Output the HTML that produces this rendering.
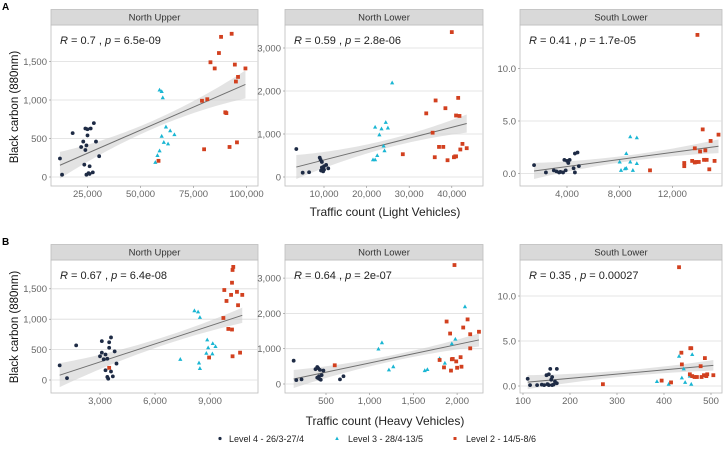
<!DOCTYPE html>
<html><head><meta charset="utf-8"><style>
body{margin:0;background:#fff;}
svg text{font-family:"Liberation Sans",sans-serif;}
</style></head><body>
<svg id="c" width="723" height="446" viewBox="0 0 723 446" xmlns="http://www.w3.org/2000/svg"></svg>
<script>
// Panel A1: North Upper vs light vehicles
const a1Navy=[[12000,240],[13000,30],[18000,570],[22000,390],[23000,460],[23500,160],[24000,350],[24000,630],[24500,410],[25000,620],[25000,540],[24500,30],[25500,50],[26000,140],[26500,630],[27500,60],[28000,700],[29000,460],[30500,270],[26000,40]];
const a1Cyan=[[57000,190],[58000,280],[59000,340],[59000,1130],[60000,1110],[60500,1030],[60000,530],[61000,450],[62000,650],[63000,430],[64000,600],[66000,550]];
const a1Red=[[58500,210],[79000,990],[80000,360],[81500,1010],[83000,1490],[85000,1410],[87000,1610],[88000,1820],[90000,840],[90500,830],[92000,390],[93000,1860],[94500,1460],[95000,1240],[96000,1300],[95500,450],[99500,1410]];
// Panel A2: North Lower vs light vehicles
const a2Navy=[[3500,650],[5000,100],[6500,110],[9000,450],[9200,400],[9500,350],[9300,150],[9800,130],[10000,170],[10000,250],[10500,280],[11000,200],[9500,220]];
const a2Cyan=[[21500,400],[22000,400],[22000,1160],[22500,500],[23000,980],[23500,1120],[24000,720],[24500,1270],[25000,1140],[24200,610],[26000,2190]];
const a2Red=[[28500,530],[34000,1480],[35500,1030],[36000,460],[36200,1780],[37000,700],[38000,700],[38500,1600],[39000,390],[40000,3370],[40500,460],[41000,480],[41000,1430],[41500,1840],[41800,1420],[42000,640],[42500,770],[43500,670],[40800,480]];
// Panel A3: South Lower vs light vehicles
const a3Navy=[[1500,0.8],[2400,0.1],[3000,0.3],[3200,0.2],[3500,0.15],[3700,0.1],[3800,1.3],[3900,0.3],[4000,1.2],[4100,1.0],[4200,1.3],[4500,0.5],[4600,1.9],[4800,2.0],[4600,0.1],[4900,0.7],[3400,0.1]];
const a3Cyan=[[8000,1.1],[8100,0.3],[8400,0.45],[8500,1.9],[8500,0.5],[8800,1.1],[8800,3.5],[9000,0.3],[9300,3.4],[9300,0.95]];
const a3Red=[[10300,0.3],[12900,1.0],[12900,0.7],[13500,1.2],[13700,1.05],[13700,2.4],[13800,1.1],[13900,13.2],[14000,1.1],[14100,2.1],[14300,4.2],[14400,1.3],[14500,2.2],[14600,1.3],[14800,0.4],[14900,3.1],[15200,1.2],[15500,3.7]];
// Panel B1
const b1Navy=[[800,240],[1200,30],[1700,570],[3000,390],[3100,450],[3100,640],[3200,340],[3300,160],[3300,420],[3400,50],[3450,20],[3500,620],[3500,530],[3600,140],[3600,700],[3700,60],[3800,470],[3900,270],[3400,350]];
const b1Cyan=[[7380,340],[8150,1140],[8350,1120],[8400,280],[8450,190],[8450,1030],[8800,440],[8850,660],[8900,530],[9150,600],[9130,430],[9300,550]];
const b1Red=[[3500,200],[8950,370],[9730,1020],[9780,1480],[9900,1300],[10150,1400],[10200,1600],[10230,1810],[10270,1860],[10200,830],[10000,840],[10230,390],[10470,1450],[10530,1230],[10640,450],[10760,1400]];
// Panel B2
const b2Navy=[[130,660],[160,110],[220,130],[380,420],[400,480],[410,450],[420,220],[420,150],[430,400],[440,120],[450,250],[470,380],[400,180],[660,130],[700,220]];
const b2Cyan=[[1100,990],[1140,1170],[1220,400],[1270,490],[1630,380],[1660,410],[1800,720],[1860,590],[1940,1140],[1980,1270],[2090,2190]];
const b2Red=[[600,530],[1800,680],[1850,470],[1880,1770],[1920,1430],[1930,380],[1940,700],[1950,710],[1970,3370],[1990,640],[2000,460],[2040,760],[2050,490],[2070,1600],[2120,1830],[2150,1410],[2150,1010],[2250,1480]];
// Panel B3
const b3Navy=[[110,0.8],[115,0.1],[130,0.1],[140,0.15],[145,0.1],[150,1.2],[152,0.2],[155,1.3],[155,0.1],[158,1.9],[160,0.7],[162,0.1],[165,0.15],[168,0.5],[172,1.9],[172,0.3],[162,1.0]];
const b3Cyan=[[385,0.5],[410,0.2],[432,3.3],[438,0.9],[442,1.9],[445,0.4],[455,1.1],[458,0.2],[460,3.5]];
const b3Red=[[270,0.2],[395,0.6],[415,0.4],[432,13.2],[437,3.7],[438,2.4],[455,1.3],[456,4.2],[458,4.2],[460,1.1],[465,1.0],[470,1.0],[478,2.2],[480,1.0],[485,1.2],[487,3.1],[490,1.1],[492,1.3],[505,1.2]];

const titles=["North Upper","North Lower","South Lower"];
const statsA=["R = 0.7 , p = 6.5e-09","R = 0.59 , p = 2.8e-06","R = 0.41 , p = 1.7e-05"];
const statsB=["R = 0.67 , p = 6.4e-08","R = 0.64 , p = 2e-07","R = 0.35 , p = 0.00027"];
const xTicksA=[[25000,50000,75000,100000],[10000,20000,30000,40000],[4000,8000,12000]];
const yTicksA=[[0,500,1000,1500],[0,1000,2000,3000],[0,5,10]];
const xTicksB=[[3000,6000,9000],[500,1000,1500,2000],[100,200,300,400,500]];
const yTicksB=[[0,500,1000,1500],[0,1000,2000,3000],[0,5,10]];

const svg=document.getElementById('c');
const NS="http://www.w3.org/2000/svg";
function mk(tag,attrs,parent){const e=document.createElementNS(NS,tag);for(const k in attrs)e.setAttribute(k,attrs[k]);(parent||svg).appendChild(e);return e;}
const NAVY="#1e2b45",CYAN="#1ab6d3",RED="#d2401f";
function fmt(v,dec){return dec?v.toFixed(1):v.toLocaleString('en-US');}

function panel(o){
  const g=mk('g',{});
  
  
  const X=v=>o.x0p+(v-o.x0)/o.xd*o.xs, Y=v=>o.y0p-(v-o.y0)/o.yd*o.ys;
  const bg=mk('rect',{x:o.L,y:o.T,width:o.R-o.L,height:o.B-o.T,fill:"#fff",stroke:"#bdbdbd","stroke-width":0.8},g);
  
  const strip=mk('rect',{x:o.L,y:o.T-15.5,width:o.R-o.L,height:15.5,fill:"#d9d9d9",stroke:"#bdbdbd","stroke-width":0.8},g);
  
  const st=mk('text',{x:(o.L+o.R)/2,y:o.T-4.5,"text-anchor":"middle","font-size":"9.5",fill:"#333"},g);st.textContent=o.title;
  
  o.yt.forEach(v=>{const y=Y(v);mk('line',{x1:o.L,x2:o.R,y1:y,y2:y,stroke:"#dcdcdc","stroke-width":0.8},g);
    const t=mk('text',{x:o.L-4,y:y+3.4,"text-anchor":"end","font-size":"9.5",fill:"#666"},g);t.textContent=fmt(v,o.dec);
    
    mk('line',{x1:o.L-2,x2:o.L,y1:y,y2:y,stroke:"#888","stroke-width":0.6},g);});
  o.xt.forEach(v=>{const x=X(v);
    const t=mk('text',{x:x,y:o.B+11,"text-anchor":"middle","font-size":"9.5",fill:"#666"},g);t.textContent=fmt(v,false);
    
    mk('line',{x1:x,x2:x,y1:o.B,y2:o.B+2,stroke:"#888","stroke-width":0.6},g);});
  const all=o.navy.concat(o.cyan,o.red);
  const n=all.length;let sx=0,sy=0,sxx=0,sxy=0;all.forEach(([a,b])=>{sx+=a;sy+=b;sxx+=a*a;sxy+=a*b;});
  const m=(n*sxy-sx*sy)/(n*sxx-sx*sx), c=(sy-m*sx)/n;
  const xmin=Math.min(...all.map(p=>p[0])),xmax=Math.max(...all.map(p=>p[0]));
  const xm=sx/n, half=Math.max(xmax-xm,xm-xmin);
  let up=[],dn=[];
  for(let i=0;i<=40;i++){const xv=xmin+(xmax-xmin)*i/40;const t=(xv-xm)/half;const hw=o.bw[0]+o.bw[1]*t*t;
    up.push([X(xv),Y(m*xv+c)-hw]);dn.push([X(xv),Y(m*xv+c)+hw]);}
  const band=mk('path',{d:"M"+up.map(p=>p.join(",")).join("L")+"L"+dn.reverse().map(p=>p.join(",")).join("L")+"Z",fill:"#d0d0d0","fill-opacity":0.6},g);
  
  const ln=mk('line',{x1:X(xmin),y1:Y(m*xmin+c),x2:X(xmax),y2:Y(m*xmax+c),stroke:"#707070","stroke-width":1},g);
  
  o.navy.forEach(([a,b])=>{const e=mk('circle',{cx:X(a),cy:Y(b),r:1.9,fill:NAVY},g);
    });
  o.cyan.forEach(([a,b])=>{const x=X(a),y=Y(b);const e=mk('path',{d:`M${x},${y-2.3}L${x+2.1},${y+1.5}L${x-2.1},${y+1.5}Z`,fill:CYAN},g);
    });
  o.red.forEach(([a,b])=>{const e=mk('rect',{x:X(a)-1.9,y:Y(b)-1.9,width:3.8,height:3.8,fill:RED},g);
    });
  const rt=mk('text',{x:o.L+9,y:o.T+19,"font-size":"11",fill:"#222"},g);
  const parts=o.stat.split(" , p = ");
  rt.innerHTML='<tspan font-style="italic">R</tspan> = '+parts[0].replace("R = ","")+' , <tspan font-style="italic">p</tspan> = '+parts[1];
  
}
panel({name:'panel-a-north-upper',L:51,R:258,T:25,B:186,x0:25000,xd:25000,x0p:87.5,xs:53,y0:0,yd:500,y0p:177,ys:38.5,xt:xTicksA[0],yt:yTicksA[0],navy:a1Navy,cyan:a1Cyan,red:a1Red,title:titles[0],stat:statsA[0],bw:[4,10]});
panel({name:'panel-a-north-lower',L:285,R:483,T:25,B:186,x0:10000,xd:10000,x0p:324,xs:42.6,y0:0,yd:1000,y0p:177,ys:43,xt:xTicksA[1],yt:yTicksA[1],navy:a2Navy,cyan:a2Cyan,red:a2Red,title:titles[1],stat:statsA[1],bw:[4,8]});
panel({name:'panel-a-south-lower',L:520,R:722,T:25,B:186,x0:4000,xd:4000,x0p:567,xs:52.7,y0:0,yd:5,y0p:173.5,ys:52.5,xt:xTicksA[2],yt:yTicksA[2],navy:a3Navy,cyan:a3Cyan,red:a3Red,title:titles[2],stat:statsA[2],bw:[3,5],dec:true});
panel({name:'panel-b-north-upper',L:51,R:258,T:260,B:393,x0:3000,xd:3000,x0p:100,xs:55,y0:0,yd:500,y0p:380,ys:30.4,xt:xTicksB[0],yt:yTicksB[0],navy:b1Navy,cyan:b1Cyan,red:b1Red,title:titles[0],stat:statsB[0],bw:[4,8]});
panel({name:'panel-b-north-lower',L:285,R:483,T:260,B:393,x0:500,xd:500,x0p:326,xs:43.7,y0:0,yd:1000,y0p:384,ys:35.3,xt:xTicksB[1],yt:yTicksB[1],navy:b2Navy,cyan:b2Cyan,red:b2Red,title:titles[1],stat:statsB[1],bw:[3,6]});
panel({name:'panel-b-south-lower',L:520,R:722,T:260,B:393,x0:100,xd:100,x0p:523,xs:47,y0:0,yd:5,y0p:386,ys:45,xt:xTicksB[2],yt:yTicksB[2],navy:b3Navy,cyan:b3Cyan,red:b3Red,title:titles[2],stat:statsB[2],bw:[3,4],dec:true});

function txt(s,attrs,name){const t=mk('text',attrs);t.textContent=s;return t;}
txt("A",{x:2,y:10,"font-size":"10","font-weight":"bold",fill:"#000"},'panel-label-a');
txt("B",{x:2,y:245,"font-size":"10","font-weight":"bold",fill:"#000"},'panel-label-b');
txt("Black carbon (880nm)",{x:0,y:0,transform:"translate(18,107) rotate(-90)","text-anchor":"middle","font-size":"11.5",fill:"#111"},'y-axis-title-a');
txt("Black carbon (880nm)",{x:0,y:0,transform:"translate(18,327) rotate(-90)","text-anchor":"middle","font-size":"11.5",fill:"#111"},'y-axis-title-b');
txt("Traffic count (Light Vehicles)",{x:385,y:216,"text-anchor":"middle","font-size":"12",fill:"#222"},'x-axis-title-a');
txt("Traffic count (Heavy Vehicles)",{x:385,y:425,"text-anchor":"middle","font-size":"12",fill:"#222"},'x-axis-title-b');
const lg=mk('g',{});
mk('circle',{cx:220,cy:438.5,r:1.6,fill:NAVY},lg);
mk('path',{d:"M337,436.5L338.8,440L335.2,440Z",fill:CYAN},lg);
mk('rect',{x:453.5,y:437,width:3,height:3,fill:RED},lg);
txt("Level 4 - 26/3-27/4",{x:229,y:442,"font-size":"9",fill:"#222"},'legend-entry-level-4');
txt("Level 3 - 28/4-13/5",{x:348,y:442,"font-size":"9",fill:"#222"},'legend-entry-level-3');
txt("Level 2 - 14/5-8/6",{x:466,y:442,"font-size":"9",fill:"#222"},'legend-entry-level-2');
</script>
</body></html>
